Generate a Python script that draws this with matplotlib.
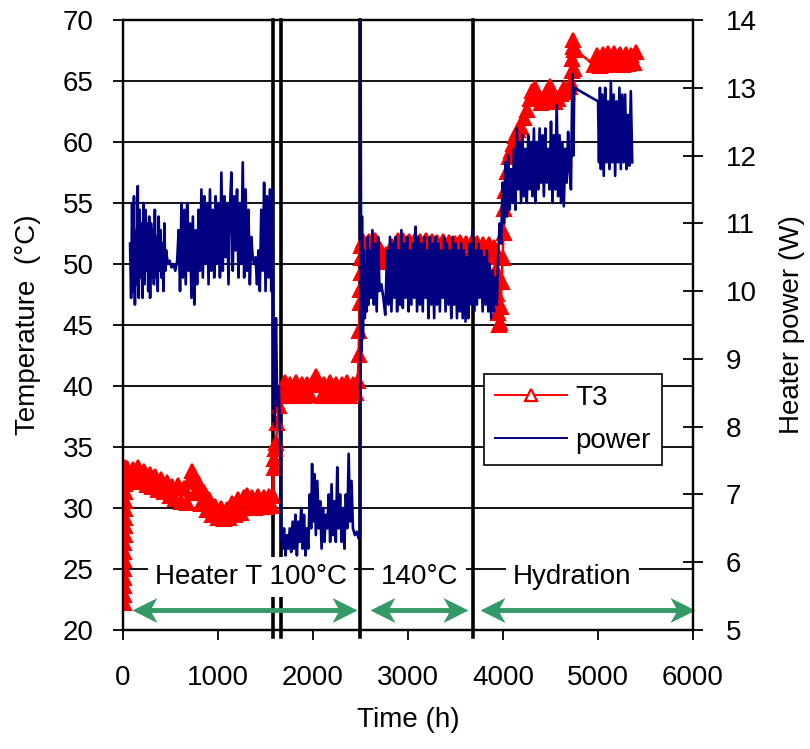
import numpy as np
import matplotlib
matplotlib.use("Agg")
import matplotlib.pyplot as plt
from matplotlib.lines import Line2D

plt.rcParams['font.family'] = ['Liberation Sans', 'DejaVu Sans']
FS = 20

# ---- T3 temperature (degC) ----
t3_hours = ([8, 9, 10, 11, 12, 13, 14, 15, 16, 17, 18, 19, 20, 21, 22, 23, 24]
            + [40, 70, 100, 130, 160, 190, 220, 250, 280, 310, 340, 370, 400, 430, 460, 490,
               520, 550, 580, 610, 640, 670, 700, 730, 760, 790, 820, 850, 880, 910, 940, 970,
               1000, 1030, 1060, 1090, 1120, 1150, 1180, 1210, 1240, 1270, 1300, 1330, 1360,
               1390, 1420, 1450, 1480, 1510, 1540, 1570]
            + [1580, 1585, 1590, 1600, 1610, 1625, 1640, 1660, 1680]
            + [1700, 1730, 1760, 1790, 1820, 1850, 1880, 1910, 1940, 1970, 2000, 2030, 2060,
               2090, 2120, 2150, 2180, 2210, 2240, 2270, 2300, 2330, 2360, 2390, 2420, 2450, 2470]
            + [2480, 2485, 2490, 2495, 2500, 2505, 2510]
            + [2530, 2560, 2590, 2620, 2650, 2680, 2710, 2740, 2770, 2800, 2830, 2860, 2890,
               2920, 2950, 2980, 3010, 3040, 3070, 3100, 3130, 3160, 3190, 3220, 3250, 3280,
               3310, 3340, 3370, 3400, 3430, 3460, 3490, 3520, 3550, 3580, 3610, 3640, 3670,
               3700, 3730, 3760, 3790, 3820, 3850, 3880, 3910]
            + [3925, 3935, 3945, 3955, 3965, 3975, 3985, 3995, 4005, 4015, 4025, 4040, 4060, 4080]
            + [4100, 4130, 4160, 4190, 4220, 4250, 4280, 4310, 4340, 4370, 4400, 4430, 4460,
               4490, 4520, 4550, 4580, 4610, 4640, 4670, 4700, 4720, 4725, 4730, 4735, 4740,
               4745, 4750, 4755]
            + [4960, 4990, 5020, 5050, 5080, 5110, 5140, 5170, 5200, 5230, 5260, 5290, 5320,
               5350, 5380, 5400])
t3_temp = ([22.2, 22.9, 23.6, 24.3, 25.0, 25.7, 26.4, 27.1, 27.8, 28.5, 29.2, 29.9, 30.6, 31.3,
            32.0, 32.7, 33.4]
           + [33.3, 32.2, 33.2, 32.1, 33.4, 32.3, 33.0, 31.9, 32.8, 31.7, 32.6, 31.5, 32.4, 31.3,
              32.1, 31.0, 31.8, 30.7, 31.9, 30.5, 31.6, 30.4, 32.3, 33.0, 31.2, 32.1, 30.3, 31.3,
              29.8, 30.7, 29.4, 30.2, 29.2, 30.0, 29.1, 29.9, 29.2, 30.4, 29.4, 30.7, 29.6, 30.9,
              31.1, 30.0, 30.9, 30.0, 31.0, 30.1, 30.9, 30.1, 31.0, 30.2]
           + [31.0, 33.3, 34.0, 34.8, 35.3, 37.0, 38.4, 39.5, 40.0]
           + [40.3, 39.2, 40.2, 39.2, 40.3, 39.3, 40.2, 39.2, 40.2, 39.3, 40.3, 40.8, 40.1, 39.2,
              40.2, 39.2, 40.3, 39.3, 40.2, 39.2, 40.2, 39.3, 40.3, 39.2, 40.2, 39.4, 40.4]
           + [42.5, 44.5, 46.8, 47.9, 49.3, 50.5, 51.5]
           + [51.9, 50.4, 51.9, 50.5, 52.0, 50.3, 51.2, 50.2, 50.8, 50.3, 51.5, 50.4, 52.0, 50.5,
              52.0, 50.4, 51.9, 50.6, 52.0, 50.5, 51.9, 50.4, 52.0, 50.5, 51.9, 50.4, 51.8, 50.5,
              51.9, 50.6, 51.8, 50.5, 51.7, 50.6, 51.8, 50.6, 51.7, 50.7, 51.8, 50.6, 51.7, 50.7,
              51.6, 50.6, 51.6, 50.7, 51.4]
           + [49.5, 47.5, 46.0, 45.0, 45.2, 46.5, 48.5, 50.5, 52.5, 54.5, 56.0, 57.5, 58.8, 59.3]
           + [59.8, 60.5, 61.0, 61.2, 62.0, 62.6, 63.5, 64.2, 64.4, 63.6, 63.2, 63.5, 64.2, 64.6,
              63.6, 63.3, 63.5, 63.9, 64.4, 64.1, 64.5, 64.8, 65.8, 66.8, 67.8, 68.4, 67.5, 66.0,
              67.6]
           + [66.3, 67.1, 66.2, 67.2, 66.3, 67.3, 66.4, 67.3, 66.4, 67.2, 66.3, 67.2, 66.4, 67.1,
              66.5, 67.4])

# ---- heater power (W) ----
power_hours = ([74, 85, 95, 105, 115, 125, 135, 145, 155, 165, 175, 185, 195, 205, 215, 225,
                235, 245, 255, 265, 275, 285, 295, 305, 315, 325, 335, 345, 355, 365, 375, 385,
                395, 405, 415, 425, 435, 445, 455]
               + [470, 490, 510, 530, 550, 570]
               + [585, 600, 615, 630, 645, 660, 675, 690, 705, 720, 735, 750, 765, 780, 795, 810,
                  825, 840, 855, 870, 885, 900, 915, 930, 945, 960, 975, 990, 1005, 1020, 1035,
                  1050, 1065, 1080, 1095, 1110, 1125, 1140, 1155, 1170, 1185, 1200, 1215, 1230,
                  1245, 1260, 1275, 1290, 1305, 1320, 1335, 1350, 1365, 1380, 1395, 1410, 1425,
                  1440, 1455, 1470, 1485, 1500, 1515, 1530, 1545, 1560, 1570, 1578]
               + [1585, 1592, 1600, 1610, 1620, 1630, 1640, 1652]
               + [1665, 1680, 1695, 1710, 1725, 1740, 1755, 1770, 1785, 1800, 1815, 1830, 1845,
                  1860, 1875, 1890, 1905, 1920, 1935, 1950, 1965, 1980, 1990, 2000, 2015, 2030,
                  2045, 2060, 2075, 2090, 2105, 2120, 2135, 2150, 2165, 2180, 2195, 2210, 2225,
                  2240, 2255, 2270, 2285, 2300, 2315, 2330, 2345, 2360, 2375, 2390, 2405, 2420,
                  2440, 2460, 2480, 2495]
               + [2500, 2508]
               + [2515, 2525, 2535, 2545, 2555, 2565, 2575, 2585, 2595, 2610, 2625, 2640, 2655,
                  2670, 2685, 2700, 2720, 2740, 2760, 2780, 2795, 2810, 2825, 2840, 2855, 2870,
                  2885, 2900, 2915, 2930, 2945, 2960, 2975, 2990, 3005, 3020, 3035, 3050, 3065,
                  3080, 3095, 3110, 3125, 3140, 3155, 3170, 3185, 3200, 3215, 3230, 3245, 3260,
                  3275, 3290, 3305, 3320, 3335, 3350, 3365, 3380, 3395, 3410, 3425, 3440, 3455,
                  3470, 3485, 3500, 3515, 3530, 3545, 3560, 3575, 3590, 3605, 3620, 3635, 3650,
                  3665, 3680, 3695, 3710, 3725, 3740, 3755, 3770, 3785, 3800, 3815, 3830, 3845,
                  3860, 3875, 3890, 3905, 3920, 3935, 3950]
               + [3965, 3980, 3995, 4010, 4025, 4040, 4055, 4070, 4085, 4100, 4115, 4130, 4145,
                  4160, 4175, 4190, 4205, 4220, 4235, 4250, 4265, 4280, 4295, 4310, 4325, 4340,
                  4355, 4370, 4385, 4400, 4415, 4430, 4445, 4460, 4475, 4490, 4505, 4520, 4535,
                  4550, 4565, 4580, 4595, 4610, 4625, 4640, 4655, 4670, 4685, 4700, 4715, 4730,
                  4740, 4750]
               + [5000, 5010, 5020, 5030, 5045, 5060, 5075, 5090, 5105, 5120, 5135, 5150, 5165,
                  5180, 5195, 5210, 5225, 5240, 5255, 5270, 5285, 5300, 5315, 5330, 5345, 5360])
power_watts = ([10.7, 9.9, 11.3, 10.0, 11.4, 9.8, 10.9, 10.1, 11.55, 9.9, 11.2, 10.2, 11.0, 9.9,
                11.3, 10.1, 11.2, 10.3, 11.0, 10.0, 11.1, 9.9, 11.0, 10.2, 10.9, 10.1, 11.2, 10.2,
                10.8, 10.0, 11.1, 10.3, 10.9, 10.2, 10.7, 10.0, 11.0, 10.3, 10.6]
               + [10.4, 10.45, 10.35, 10.4, 10.3, 10.45]
               + [10.9, 10.0, 11.3, 10.2, 11.2, 10.1, 11.3, 10.3, 11.0, 9.9, 11.1, 9.8, 10.9, 10.1,
                  11.2, 10.3, 11.5, 10.2, 11.4, 10.4, 11.3, 10.1, 11.5, 10.3, 11.2, 10.2, 11.4, 10.4,
                  11.3, 10.2, 11.75, 10.3, 11.4, 10.5, 11.3, 10.1, 11.2, 11.75, 10.3, 11.4, 10.6,
                  11.5, 10.2, 11.3, 10.4, 11.9, 10.2, 11.5, 10.3, 11.2, 10.1, 10.8, 10.5, 10.4, 10.5,
                  10.1, 10.6, 10.0, 11.2, 10.3, 11.6, 10.0, 11.4, 10.2, 11.5, 10.0, 11.5, 10.4]
               + [8.4, 8.0, 8.8, 9.6, 8.6, 8.3, 8.6, 7.8]
               + [6.4, 6.2, 6.5, 6.1, 6.4, 6.2, 6.5, 6.15, 6.6, 6.2, 6.7, 6.1, 6.6, 6.3, 6.8, 6.2,
                  6.7, 6.1, 6.5, 6.2, 7.0, 6.5, 7.45, 6.6, 7.3, 6.4, 7.2, 6.5, 6.9, 6.2, 6.8, 6.3,
                  6.7, 6.5, 7.0, 6.3, 7.15, 6.4, 6.9, 6.3, 7.4, 6.5, 7.0, 6.3, 6.8, 6.2, 7.0, 6.5,
                  7.6, 6.6, 7.2, 6.5, 6.4, 6.45, 6.35, 6.4]
               + [14.0, 9.1]
               + [11.1, 9.3, 10.6, 9.6, 10.4, 9.7, 10.8, 9.8, 10.6, 9.9, 10.9, 9.8, 10.7, 9.7, 10.8,
                  10.0, 10.1, 9.9, 9.65, 10.6, 9.8, 10.8, 9.7, 10.7, 9.9, 10.8, 9.7, 10.6, 9.8, 10.9,
                  9.75, 10.7, 9.9, 10.8, 9.7, 10.6, 9.8, 10.7, 9.9, 10.95, 9.7, 10.8, 9.8, 10.7, 9.7,
                  10.8, 9.9, 10.6, 9.6, 10.8, 9.8, 10.7, 9.6, 10.8, 9.8, 10.7, 9.7, 10.6, 9.9, 10.8,
                  9.7, 10.7, 9.8, 10.6, 9.6, 10.8, 9.8, 10.7, 9.6, 10.6, 9.7, 10.7, 9.6, 10.6, 9.55,
                  10.5, 9.6, 10.7, 9.8, 10.9, 9.7, 10.6, 9.8, 10.7, 9.9, 10.6, 9.7, 10.5, 9.8, 10.6,
                  9.7, 10.4, 9.6, 10.3, 9.7, 10.2, 9.8, 10.6]
               + [11.0, 10.7, 11.6, 11.0, 11.9, 11.1, 12.0, 11.2, 11.8, 11.3, 12.1, 11.2, 12.4,
                  11.5, 12.2, 11.3, 12.3, 11.4, 12.1, 11.3, 12.3, 11.5, 12.2, 11.4, 12.4, 11.3,
                  12.2, 11.5, 12.4, 11.6, 12.3, 11.4, 12.4, 11.6, 12.1, 11.5, 12.5, 11.3, 12.3,
                  11.5, 12.75, 11.4, 12.3, 11.3, 12.2, 11.25, 12.1, 11.6, 12.35, 11.8, 11.5, 13.2,
                  12.0, 13.0]
               + [12.8, 11.9, 13.0, 11.8, 12.9, 11.7, 13.0, 11.9, 12.8, 11.8, 13.1, 11.9, 12.9,
                  11.7, 12.8, 11.9, 13.0, 11.8, 12.9, 11.9, 12.9, 11.8, 12.6, 11.85, 12.95, 11.9])

# phases
phase_bounds = [1580, 1665, 2495, 3685]
phase_labels = ['Heater T 100°C', '140°C', 'Hydration']
phase_label_x = [1350, 3126, 4730]
arrow_spans = [(95, 2463), (2600, 3632), (3758, 6020)]

RED = '#ff0000'
NAVY = '#000080'
GREEN = '#339966'

fig = plt.figure(figsize=(8.1, 7.49), dpi=100)
ax = fig.add_axes([0.1519, 0.1589, 0.7037, 0.8144])
ax2 = ax.twinx()

ax.set_xlim(0, 6000)
ax.set_ylim(20, 70)
ax2.set_ylim(5, 14)
ax.set_xticks(np.arange(0, 6001, 1000))
ax.set_yticks(np.arange(20, 71, 5))
ax2.set_yticks(np.arange(5, 15, 1))

for y in np.arange(25, 70, 5):
    ax.axhline(y, color='black', lw=1.3, zorder=1)

for s in ax.spines.values():
    s.set_linewidth(1.6)
for s in ax2.spines.values():
    s.set_linewidth(1.6)

ax.tick_params(axis='y', direction='out', length=7, width=1.3, pad=14, labelsize=FS)
ax.tick_params(axis='x', direction='out', length=7, width=1.3, pad=18, labelsize=FS)
ax2.tick_params(axis='y', direction='inout', length=15, width=1.3, pad=16, labelsize=FS)

ax.plot(t3_hours, t3_temp, color=RED, lw=1.8, marker='^', ms=9.5, mfc=RED,
        mec=RED, mew=1.5, zorder=3)
ax2.plot(power_hours, power_watts, color=NAVY, lw=1.9, zorder=3)

# phase boundaries
for i, xb in enumerate(phase_bounds):
    ax.plot([xb, xb], [19.4, 70], color='black', lw=2.6, clip_on=False,
            zorder=6 if i == 3 else 2)

for lab, xl in zip(phase_labels, phase_label_x):
    ax.text(xl, 24.35, lab, fontsize=FS, ha='center', va='center', zorder=5,
            bbox=dict(facecolor='white', edgecolor='none', pad=5))

# double arrows
head_r = [(0, 0), (-1, 0.5), (-0.72, 0), (-1, -0.5), (0, 0)]
head_l = [(0, 0), (1, 0.5), (0.72, 0), (1, -0.5), (0, 0)]
for x0, x1 in arrow_spans:
    ax.plot([x0 + 150, x1 - 150], [21.6, 21.6], color=GREEN, lw=3.5, clip_on=False, zorder=6)
    ax.plot([x0], [21.6], marker=head_l, ms=36, color=GREEN, mew=0, clip_on=False, zorder=6)
    ax.plot([x1], [21.6], marker=head_r, ms=36, color=GREEN, mew=0, clip_on=False, zorder=6)

ax.set_xlabel('Time (h)', fontsize=FS, labelpad=12)
ax.set_ylabel('Temperature  (°C)', fontsize=FS, labelpad=16)
ax2.set_ylabel('Heater power (W)', fontsize=FS, labelpad=16)

handles = [Line2D([], [], color=RED, lw=1.4, marker='^', ms=8, mfc='white', mec=RED, mew=1.6),
           Line2D([], [], color=NAVY, lw=1.4)]
leg = ax2.legend(handles, ['T3', 'power'], loc='upper right', bbox_to_anchor=(0.9456, 0.4197),
                 borderaxespad=0, fontsize=FS, frameon=True, fancybox=False, numpoints=1,
                 handlelength=2.6, handletextpad=0.3, labelspacing=0.6, borderpad=0.4)
leg.get_frame().set_edgecolor('black')
leg.get_frame().set_linewidth(1.2)
leg.get_frame().set_alpha(1)

fig.savefig('out.png', dpi=100)
